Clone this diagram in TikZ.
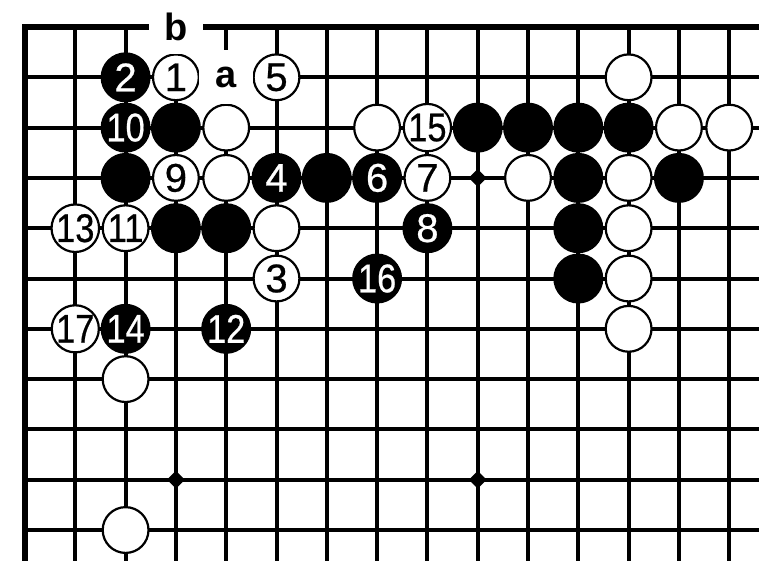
\documentclass[tikz,border=0pt]{standalone}
\usepackage{fontspec}
\newfontfamily\gofont[FakeBold=0.6]{Liberation Sans}
\newfontfamily\labelfont{Liberation Sans}
\usetikzlibrary{shapes.geometric}

% two-digit numbers are set narrower
\newcommand{\mv}[1]{\ifnum#1<10 #1\else\scalebox{0.86}[1]{#1}\fi}

\begin{document}
\begin{tikzpicture}[x=50.3bp, y=-50.3bp,
  stone/.style={circle, inner sep=0pt, font=\gofont\fontsize{40bp}{40bp}\selectfont},
  wstone/.style={stone, draw=black, fill=white, line width=2.2bp, minimum size=45.8bp},
  bstone/.style={stone, fill=black, text=white, minimum size=50bp},
  letter/.style={fill=white, inner sep=0pt, minimum size=54bp, font=\labelfont\bfseries\fontsize{38bp}{38bp}\selectfont},
  star/.style={diamond, fill=black, inner sep=0pt, minimum size=18bp}]
\useasboundingbox (-0.497,-0.537) rectangle (14.612,10.596);

% Grid
\foreach \c in {1,...,14} \draw[line width=4bp] (\c,0) -- (\c,10.7);
\foreach \r in {1,...,10} \draw[line width=4bp] (0,\r) -- (14.6,\r);
% Edges
\draw[line width=5.5bp] (0,10.7) -- (0,0) -- (14.6,0);

% Star points
\node[star] (s1) at (9,3) {};
\node[star] (s2) at (3,9) {};
\node[star] (s3) at (9,9) {};

% White stones
\foreach \c/\r [count=\i] in {4/2, 7/2, 12/1, 13/2, 14/2, 4/3, 10/3, 12/3, 5/4, 12/4, 12/5, 12/6, 2/7, 2/10}
  \node[wstone] (w\i) at (\c,\r) {};
% Black stones
\foreach \c/\r [count=\i] in {3/2, 9/2, 10/2, 11/2, 12/2, 2/3, 6/3, 11/3, 13/3, 3/4, 4/4, 11/4, 11/5}
  \node[bstone] (b\i) at (\c,\r) {};

% Moves
\foreach \c/\r/\m in {3/1/1, 5/5/3, 5/1/5, 8/3/7, 3/3/9, 2/4/11, 1/4/13, 8/2/15, 1/6/17}
  \node[wstone] (m\m) at (\c,\r) {\mv{\m}};
\foreach \c/\r/\m in {2/1/2, 5/3/4, 7/3/6, 8/4/8, 2/2/10, 4/6/12, 2/6/14, 7/5/16}
  \node[bstone] (m\m) at (\c,\r) {\mv{\m}};

% Letters
\node[letter] (a) at (4,1) {a};
\node[letter] (b) at (3,0) {b};
\end{tikzpicture}
\end{document}
